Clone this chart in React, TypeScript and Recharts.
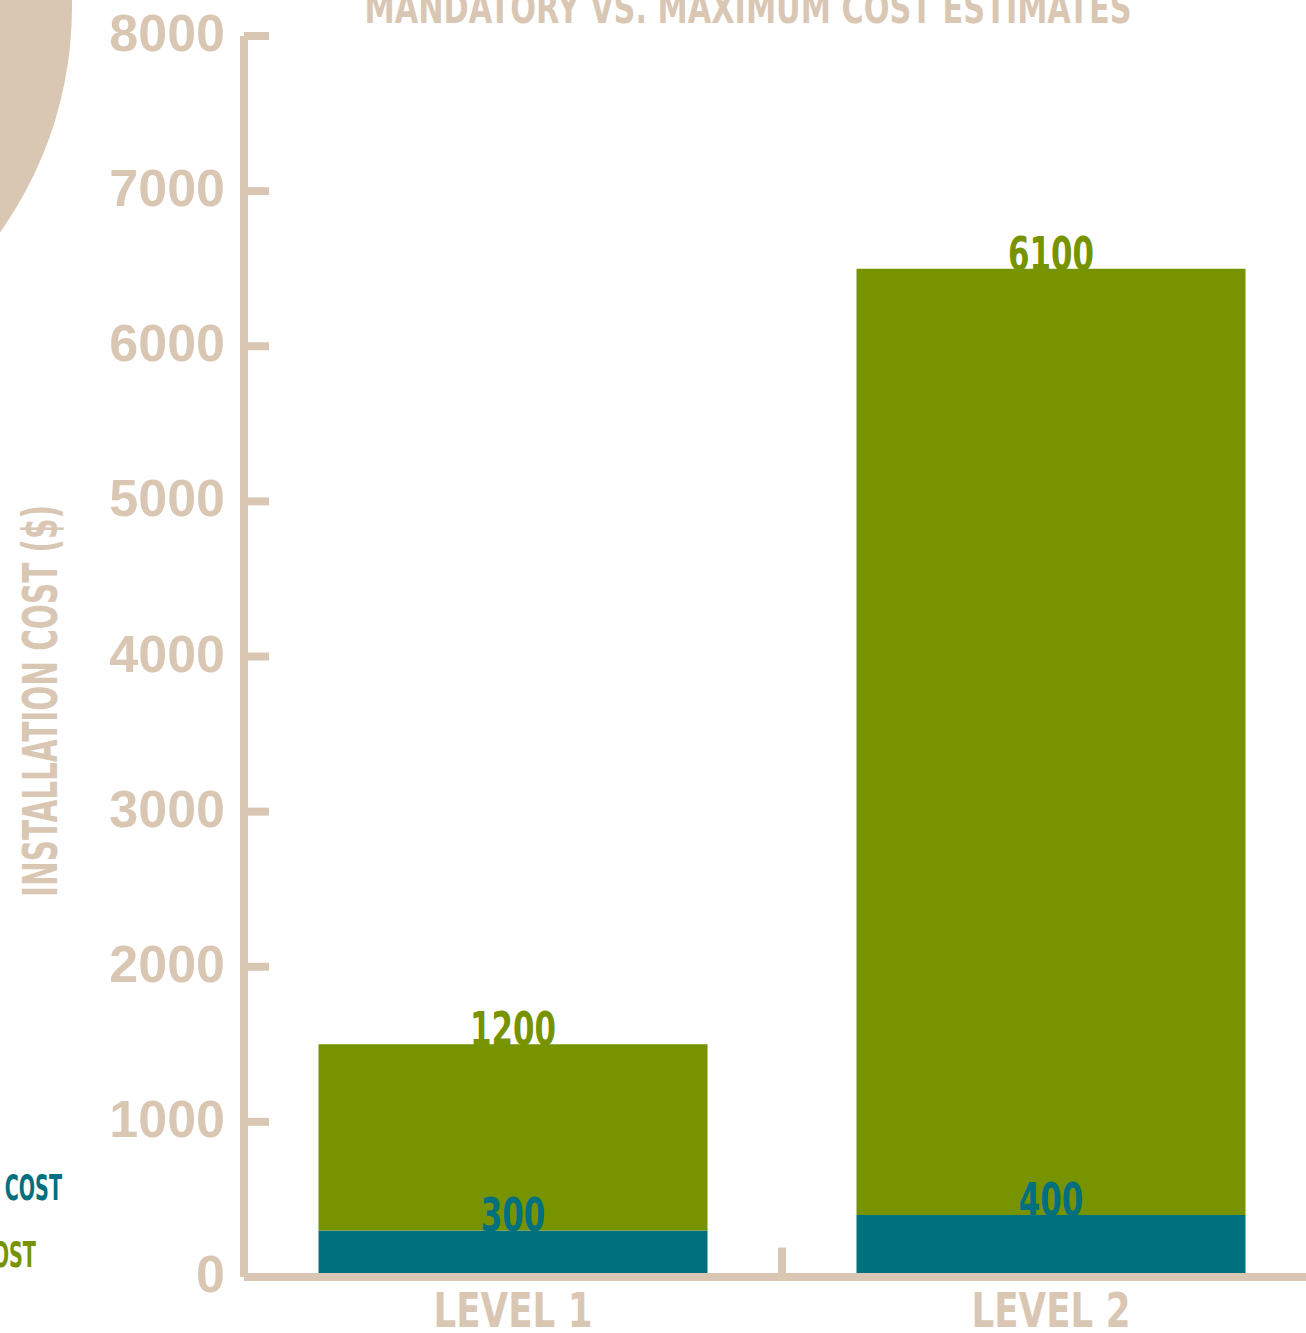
import React from "react";
import { BarChart, Bar, XAxis, YAxis, LabelList, ReferenceLine, Legend } from "recharts";

// data
const levels = ["LEVEL 1", "LEVEL 2"];
const mandatoryCost = [300, 400];
const maximumCost = [1200, 6100];
const yTicks = [0, 1000, 2000, 3000, 4000, 5000, 6000, 7000, 8000];

const chartData = levels.map((level, i) => ({
  level,
  mandatory: mandatoryCost[i],
  maximum: maximumCost[i],
}));

const BEIGE = "#D9C7B4";
const TEAL = "#00707F";
const GREEN = "#779300";
const NARROW = "'Liberation Sans Narrow', 'DejaVu Sans Condensed', 'Roboto Condensed', sans-serif";
const WIDE = "'Liberation Sans', Arial, sans-serif";

const TICK_GAP = 21;

const YTick = (props: any) => {
  const { x, y, payload } = props;
  return (
    <g>
      <text x={x + 2} y={y} dy={15} textAnchor="end" fill={BEIGE} fontFamily={WIDE} fontWeight={700} fontSize={52}>
        {payload.value}
      </text>
      <line x1={x + TICK_GAP} x2={x + TICK_GAP + 25} y1={y} y2={y} stroke={BEIGE} strokeWidth={8} />
    </g>
  );
};

const XTick = (props: any) => {
  const { x, y, payload } = props;
  const label = String(payload.value);
  return (
    <text
      x={x}
      y={y}
      dy={50}
      textAnchor="middle"
      fill={BEIGE}
      fontFamily={NARROW}
      fontWeight={700}
      fontSize={48}
      textLength={label.length * 22.7}
      lengthAdjust="spacingAndGlyphs"
    >
      {label}
    </text>
  );
};

// value labels sit on the top edge of each segment
const makeBarLabel = (color: string) => (props: any) => {
  const { x, y, width, value } = props;
  const label = String(value);
  return (
    <text
      x={x + width / 2}
      y={y + 1}
      textAnchor="middle"
      fill={color}
      fontFamily={NARROW}
      fontWeight={700}
      fontSize={46}
      textLength={label.length * 21.5}
      lengthAdjust="spacingAndGlyphs"
    >
      {label}
    </text>
  );
};

const LegendContent = (props: any) => {
  const { payload } = props;
  const lengths = [200, 174];
  return (
    <svg width={320} height={130}>
      {(payload || []).map((p: any, i: number) => (
        <text
          key={i}
          x={12}
          y={50 + i * 67}
          fill={p.color}
          fontFamily={NARROW}
          fontWeight={700}
          fontSize={35}
          textLength={lengths[i]}
          lengthAdjust="spacingAndGlyphs"
        >
          {p.value}
        </text>
      ))}
    </svg>
  );
};

export default function App() {
  return (
    <div style={{ position: "absolute", left: 0, top: 0, width: 1306, height: 1333, overflow: "hidden", background: "#fff" }}>
      {/* decorative circle */}
      <div
        style={{
          position: "absolute",
          left: -706,
          top: -382,
          width: 778,
          height: 778,
          borderRadius: "50%",
          background: BEIGE,
        }}
      />
      <svg style={{ position: "absolute", left: 0, top: 0 }} width={1306} height={60}>
        <text x={748} y={23} textAnchor="middle" fill={BEIGE} fontFamily={NARROW} fontWeight={700} fontSize={42} textLength={767} lengthAdjust="spacingAndGlyphs">
          MANDATORY VS. MAXIMUM COST ESTIMATES
        </text>
      </svg>
      <div style={{ position: "absolute", left: 0, top: 0 }}>
        <BarChart
          width={1400}
          height={1400}
          data={chartData}
          margin={{ top: 36, right: 80, left: 14, bottom: 63 }}
          barCategoryGap={74.5}
        >
          <YAxis
            width={230}
            domain={[0, 8000]}
            ticks={yTicks}
            interval={0}
            tickSize={0}
            tickMargin={TICK_GAP}
            tickLine={false}
            axisLine={{ stroke: BEIGE, strokeWidth: 8 }}
            tick={<YTick />}
            label={{
              content: () => (
                <text
                  x={57}
                  y={701}
                  transform="rotate(-90 57 701)"
                  textAnchor="middle"
                  fill={BEIGE}
                  fontFamily={NARROW}
                  fontWeight={700}
                  fontSize={48}
                  textLength={392}
                  lengthAdjust="spacingAndGlyphs"
                >
                  INSTALLATION COST ($)
                </text>
              ),
            }}
          />
          <XAxis
            dataKey="level"
            height={60}
            tickSize={0}
            tickMargin={0}
            tickLine={false}
            axisLine={{ stroke: BEIGE, strokeWidth: 8 }}
            tick={<XTick />}
          />
          <Legend
            layout="horizontal"
            verticalAlign="middle"
            align="center"
            wrapperStyle={{ left: -150, top: 1150, width: 320, height: 130 }}
            content={<LegendContent />}
          />
          <ReferenceLine
            segment={[
              { x: "LEVEL 1", y: 0 },
              { x: "LEVEL 1", y: 190 },
            ]}
            position="end"
            stroke={BEIGE}
            strokeWidth={8}
          />
          <Bar dataKey="mandatory" name="MANDATORY COST" stackId="a" fill={TEAL} isAnimationActive={false}>
            <LabelList dataKey="mandatory" content={makeBarLabel(TEAL)} />
          </Bar>
          <Bar dataKey="maximum" name="MAXIMUM COST" stackId="a" fill={GREEN} isAnimationActive={false}>
            <LabelList dataKey="maximum" content={makeBarLabel(GREEN)} />
          </Bar>
        </BarChart>
      </div>
    </div>
  );
}
